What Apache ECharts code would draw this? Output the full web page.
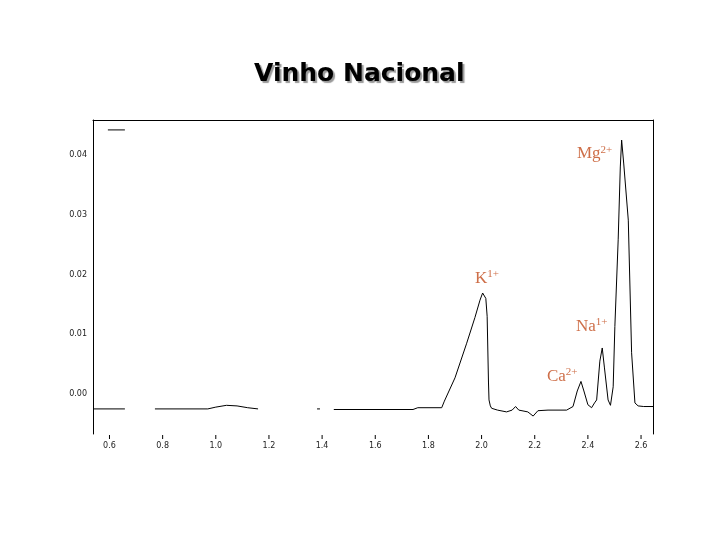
<!DOCTYPE html>
<html>
<head>
<meta charset="utf-8">
<script src="https://cdn.jsdelivr.net/npm/echarts@6/dist/echarts.min.js"></script>
<style>html,body{margin:0;padding:0;background:#fff;}#c{width:720px;height:540px;}</style>
</head>
<body>
<div id="c"></div>
<script>
var titleText = 'Vinho Nacional';
var xTicks = [0.6, 0.8, 1.0, 1.2, 1.4, 1.6, 1.8, 2.0, 2.2, 2.4, 2.6];
var yTicks = [0.00, 0.01, 0.02, 0.03, 0.04];
// trace segments (null = gap in trace)
var traceX = [0.538, 0.658, null, 0.771, 0.97, 1.00, 1.04, 1.08, 1.12, 1.159, null, 1.381, 1.392, null,
  1.444, 1.742, 1.76, 1.85, 1.86, 1.90, 1.944, 1.975, 1.994, 2.004, 2.009, 2.016, 2.021, 2.026, 2.028, 2.033, 2.038,
  2.06, 2.094, 2.115, 2.128, 2.14, 2.174, 2.194, 2.212, 2.25, 2.32, 2.344, 2.36, 2.374, 2.385, 2.40, 2.414,
  2.425, 2.433, 2.445, 2.454, 2.462, 2.476, 2.485, 2.4915, 2.4952, 2.5015, 2.514, 2.522, 2.527, 2.535, 2.552,
  2.5645, 2.577, 2.589, 2.61, 2.645];
var traceY = [-0.0025, -0.0025, null, -0.0025, -0.0025, -0.0022, -0.0019, -0.0020, -0.0023, -0.0025, null, -0.0025, -0.0025, null,
  -0.0026, -0.0026, -0.0023, -0.0023, -0.0012, 0.0027, 0.0085, 0.0128, 0.0157, 0.0169, 0.0171, 0.0160, 0.0130, 0.0020, -0.0010, -0.0020, -0.0024,
  -0.0027, -0.0030, -0.0027, -0.0021, -0.0027, -0.0030, -0.0037, -0.0028, -0.0027, -0.0027, -0.0021, 0.0005, 0.0021, 0.0005, -0.0018, -0.0023,
  -0.0015, -0.0010, 0.0055, 0.0077, 0.0045, -0.0010, -0.0019, -0.0021, 0.0012, 0.0113, 0.0258, 0.0380, 0.0425, 0.0385, 0.0291,
  0.0069, -0.0015, -0.0020, -0.0021, -0.0021];
var markX = [0.594, 0.658];
var markY = [0.0442, 0.0442];
var peakNames = ['K', 'Ca', 'Na', 'Mg'];
var peakCharges = ['1+', '2+', '1+', '2+'];
var peakLabelX = [1.975, 2.246, 2.355, 2.3587];
var peakLabelY = [0.0194, 0.0030, 0.0114, 0.0403];

function zip(a, b) { var r = []; for (var i = 0; i < a.length; i++) r.push([a[i], b[i]]); return r; }
var trace = []; for (var i = 0; i < traceX.length; i++) trace.push(traceX[i] === null ? '-' : [traceX[i], traceY[i]]);
var labelData = []; for (var j = 0; j < peakNames.length; j++) labelData.push({ value: [peakLabelX[j], peakLabelY[j]], name: peakNames[j], charge: peakCharges[j] });

var chart = echarts.init(document.getElementById('c'), null, { renderer: 'canvas' });
var lblColor = '#c24b1c';
chart.setOption({
  animation: false,
  backgroundColor: '#ffffff',
  title: {
    text: titleText, left: 249, top: 57,
    textStyle: { fontFamily: 'DejaVu Sans', fontWeight: 'bold', fontSize: 25, color: '#000',
      textShadowColor: '#999999', textShadowOffsetX: 2, textShadowOffsetY: 2, textShadowBlur: 1 }
  },
  grid: { left: 93, top: 120, right: 67, bottom: 106 },
  xAxis: [{
    type: 'value', min: 0.538, max: 2.645, position: 'bottom',
    axisLine: { show: false, onZero: false }, splitLine: { show: false },
    axisTick: { show: false },
    axisLabel: { show: true, customValues: xTicks, margin: 1, align: 'center',
      formatter: function (v) { return '{t|}\n{v|' + v.toFixed(1) + '}'; },
      rich: {
        t: { width: 1, height: 4, backgroundColor: '#000', lineHeight: 4, align: 'center' },
        v: { fontFamily: 'DejaVu Sans', fontSize: 8, color: '#222', lineHeight: 12, padding: [2, 0, 0, 0], align: 'center' }
      } }
  }, {
    type: 'value', min: 0.538, max: 2.645, position: 'top',
    axisLine: { show: true, onZero: false, lineStyle: { color: '#000', width: 1 } },
    axisTick: { show: false }, axisLabel: { show: false }, splitLine: { show: false }
  }],
  yAxis: [{
    type: 'value', min: -0.0067, max: 0.04586, position: 'left',
    axisLine: { show: true, onZero: false, lineStyle: { color: '#000', width: 1 } },
    axisTick: { show: false }, splitLine: { show: false },
    axisLabel: { customValues: yTicks, fontFamily: 'DejaVu Sans', fontSize: 8, color: '#222', margin: 6,
      formatter: function (v) { return v.toFixed(2); } }
  }, {
    type: 'value', min: -0.0067, max: 0.04586, position: 'right',
    axisLine: { show: true, onZero: false, lineStyle: { color: '#000', width: 1 } },
    axisTick: { show: false }, axisLabel: { show: false }, splitLine: { show: false }
  }],
  series: [{
    type: 'line', data: trace, showSymbol: false, connectNulls: false,
    lineStyle: { color: '#000', width: 1 }, silent: true
  }, {
    type: 'line', data: zip(markX, markY), showSymbol: false,
    lineStyle: { color: '#000', width: 1 }, silent: true
  }, {
    type: 'scatter', data: labelData, symbolSize: 0, silent: true,
    label: {
      show: true, position: 'right', distance: 0,
      formatter: function (p) { return '{a|' + p.data.name + '}{b|' + p.data.charge + '}'; },
      rich: {
        a: { fontFamily: 'Liberation Serif', fontSize: 17, color: lblColor, verticalAlign: 'bottom', lineHeight: 18 },
        b: { fontFamily: 'Liberation Serif', fontSize: 11, color: lblColor, verticalAlign: 'top', padding: [0, 0, 7, 0], lineHeight: 18 }
      }
    }
  }]
});
</script>
</body>
</html>
